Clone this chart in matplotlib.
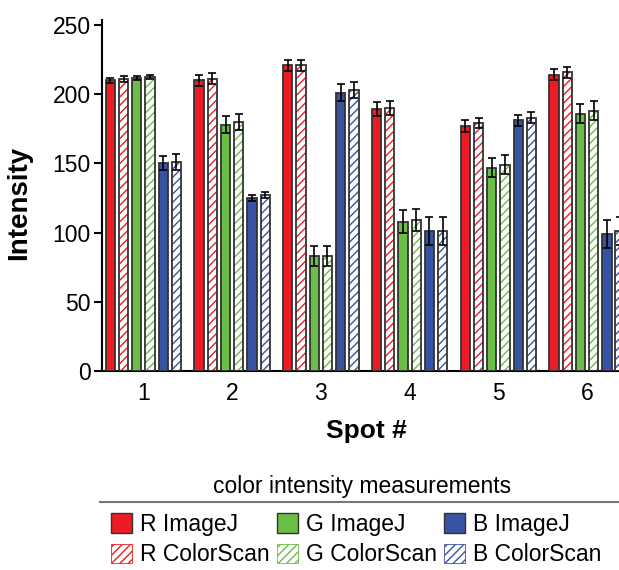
import matplotlib
matplotlib.use("Agg")
import matplotlib.pyplot as plt
import numpy as np
from matplotlib.patches import Patch
from matplotlib.lines import Line2D

plt.rcParams['font.family'] = ['Liberation Sans', 'DejaVu Sans']
plt.rcParams['hatch.linewidth'] = 1.0

spots = ['1', '2', '3', '4', '5', '6']
series = ['R ImageJ', 'R ColorScan', 'G ImageJ', 'G ColorScan', 'B ImageJ', 'B ColorScan']

r_imagej = [210, 210, 221, 189, 177, 214]
r_colorscan = [211, 211, 221, 190, 179, 216]
g_imagej = [212, 178, 83, 108, 147, 186]
g_colorscan = [212.5, 180, 83, 109, 149, 188]
b_imagej = [150, 125, 201, 101, 181, 99]
b_colorscan = [151, 127, 203, 101, 183, 101]

r_imagej_err = [2, 4, 4, 5, 4, 4]
r_colorscan_err = [2, 4, 4, 5, 3.5, 4]
g_imagej_err = [1.5, 6, 7, 8, 7, 7]
g_colorscan_err = [1.5, 6, 7, 8, 7, 7]
b_imagej_err = [5, 2, 6, 10, 4, 10]
b_colorscan_err = [6, 2, 6, 10, 4, 10]

values = [r_imagej, r_colorscan, g_imagej, g_colorscan, b_imagej, b_colorscan]
errors = [r_imagej_err, r_colorscan_err, g_imagej_err, g_colorscan_err, b_imagej_err, b_colorscan_err]

red = '#ED1C24'
green = '#6ABD45'
blue = '#3953A4'
colors = [red, red, green, green, blue, blue]
hatched = [False, True, False, True, False, True]
edge = '#333333'

fig = plt.figure(figsize=(6.19, 5.70), dpi=100)
ax = fig.add_axes([102 / 619, 1 - 371 / 570, 1 - 102 / 619, (371 - 20) / 570])

x = np.arange(1, len(spots) + 1)
pitch = 0.149
width = 0.105
for i in range(6):
    pos = x + (i - 2.5) * pitch
    if hatched[i]:
        ax.bar(pos, values[i], width, color='white', edgecolor=colors[i], hatch='////',
               linewidth=0, zorder=2)
        ax.bar(pos, values[i], width, fill=False, edgecolor=edge, linewidth=1.3, zorder=3)
    else:
        ax.bar(pos, values[i], width, color=colors[i], edgecolor=edge, linewidth=1.3, zorder=3)
    ax.errorbar(pos, values[i], yerr=errors[i], fmt='none', ecolor='black',
                elinewidth=1.2, capsize=3, capthick=1.2, zorder=4)

ax.set_xlim(0.533, 6.36)
ax.set_ylim(0, 253.6)
ax.set_yticks([0, 50, 100, 150, 200, 250])
ax.set_xticks(x)
ax.set_xticklabels(spots)
ax.spines['top'].set_visible(False)
ax.spines['right'].set_visible(False)
ax.spines['left'].set_linewidth(1.5)
ax.spines['bottom'].set_linewidth(1.5)
ax.tick_params(axis='y', direction='out', length=6, width=1.5, labelsize=16.5, pad=2)
ax.tick_params(axis='x', length=0, labelsize=16.5, pad=8)
ax.set_ylabel('Intensity', fontsize=20, fontweight='bold')
ax.yaxis.set_label_coords(-0.135, 0.48)
ax.set_xlabel('Spot #', fontsize=19, fontweight='bold')
ax.xaxis.set_label_coords(0.511, -0.137)

# legend
fig.text(362 / 619, 1 - 487 / 570, 'color intensity measurements', ha='center', va='center',
         fontsize=16.5)
fig.add_artist(Line2D([100 / 619, 1], [1 - 502 / 570, 1 - 502 / 570], color='#777777',
                      linewidth=1.5))

handles = []
for i in range(6):
    if hatched[i]:
        handles.append(Patch(facecolor='white', edgecolor=colors[i], hatch='////', linewidth=0.6))
    else:
        handles.append(Patch(facecolor=colors[i], edgecolor=edge, linewidth=1.0))
fig.legend(handles, series, ncol=3, loc='upper left', bbox_to_anchor=(111 / 619, 1 - 513 / 570),
           frameon=False, fontsize=16.5, handlelength=0.92, handleheight=0.92, handletextpad=0.35,
           columnspacing=0.3, labelspacing=0.32, borderpad=0, borderaxespad=0)

fig.savefig('out.png', dpi=100)
